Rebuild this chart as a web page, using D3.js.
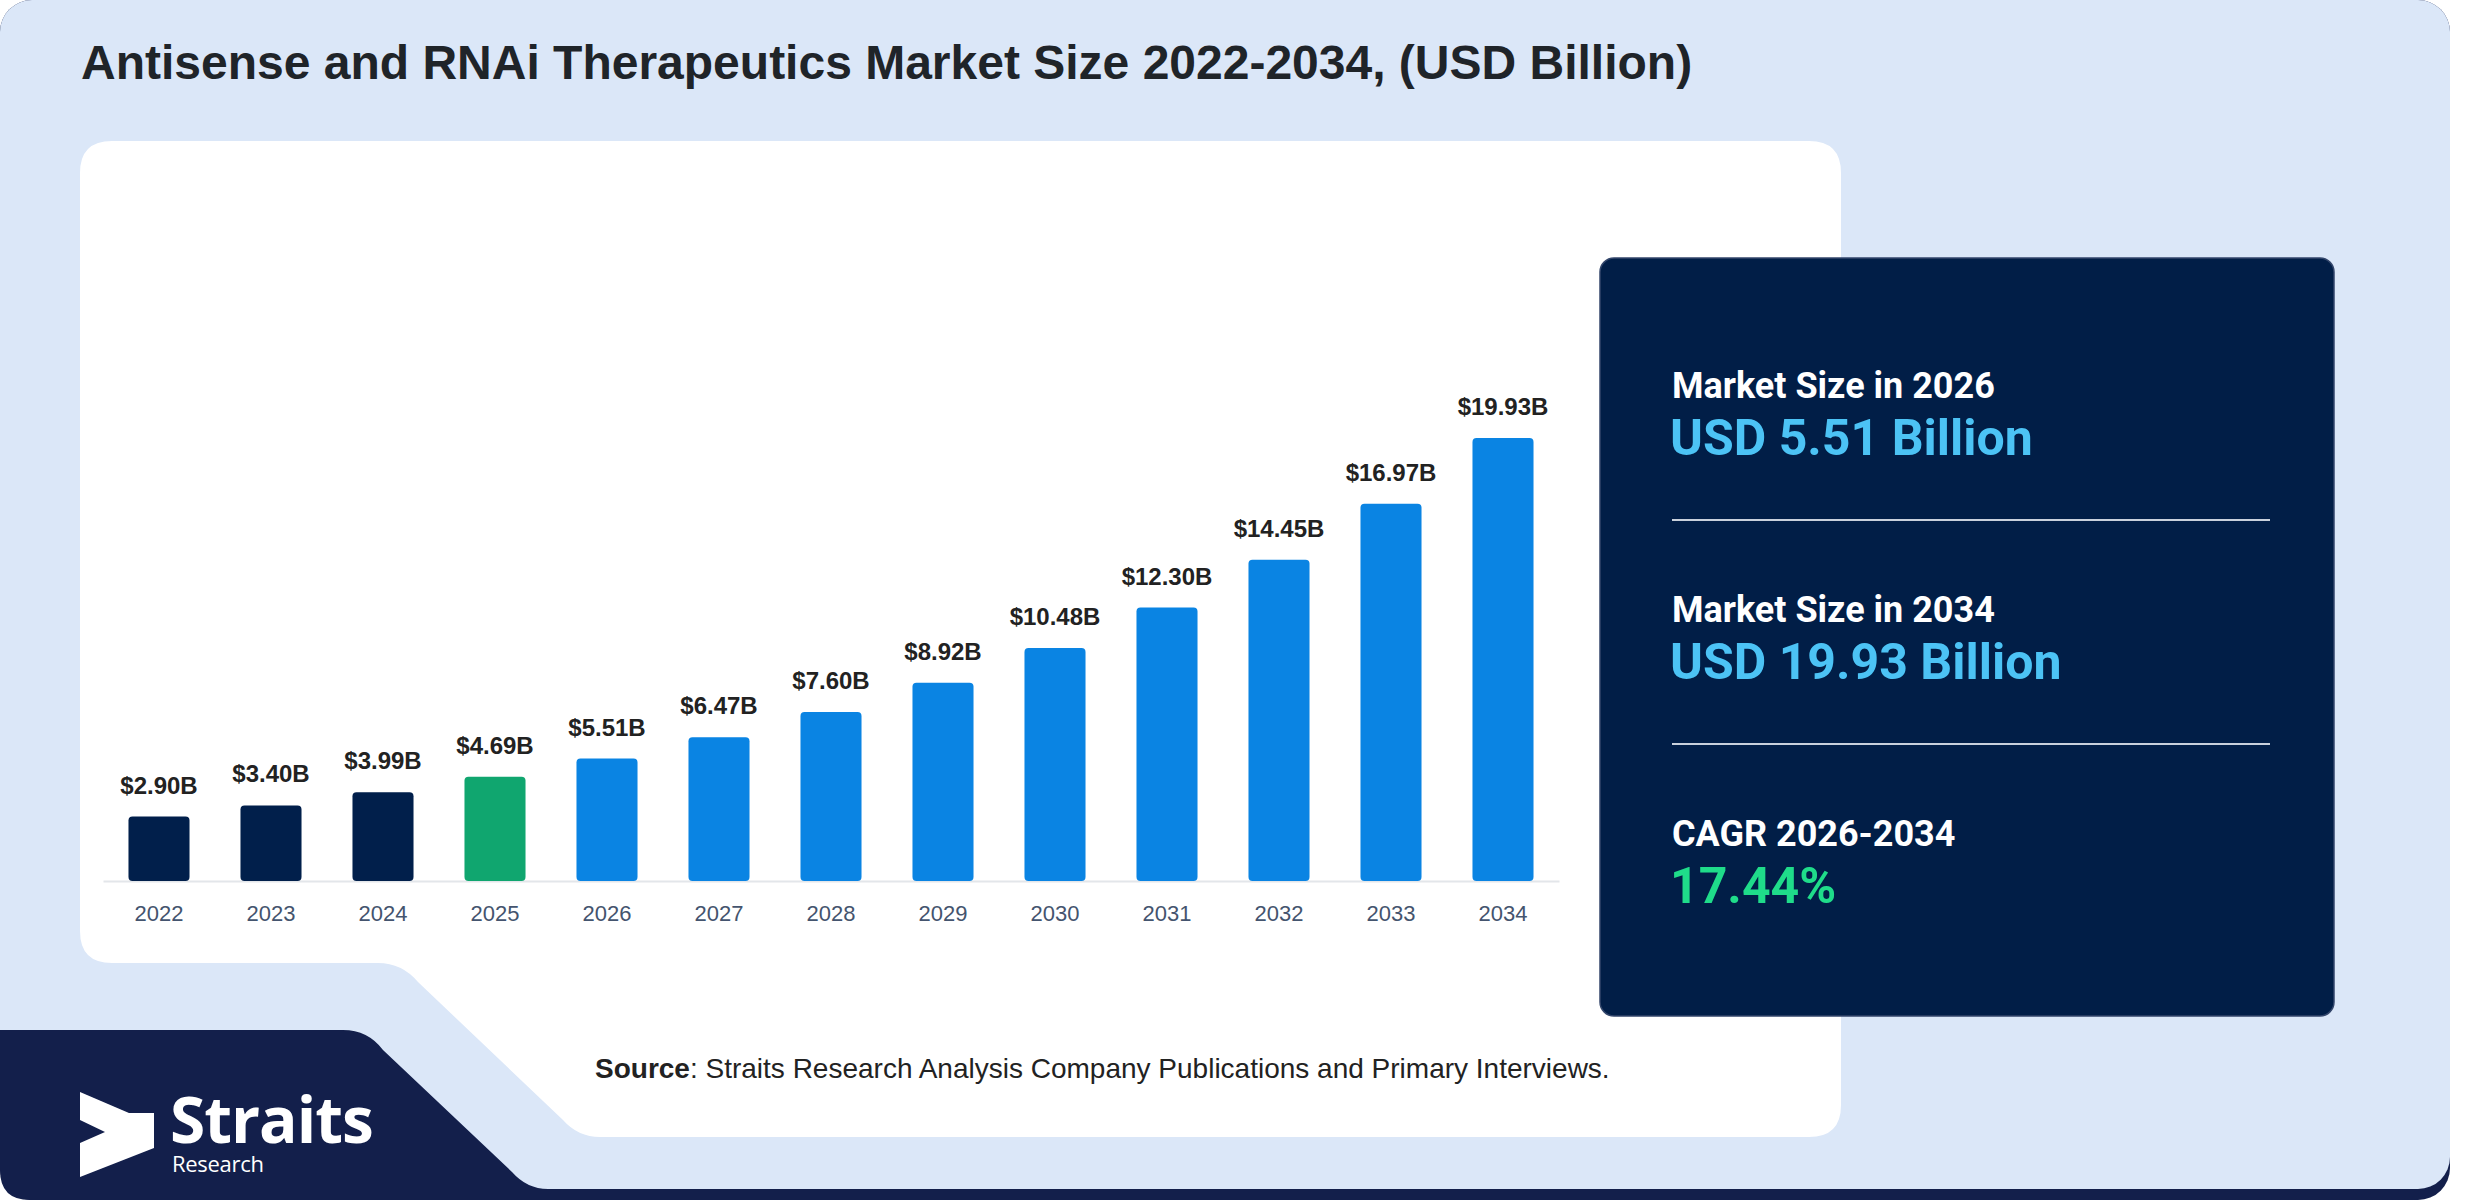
<!DOCTYPE html>
<html lang="en">
<head>
<meta charset="utf-8">
<title>Antisense and RNAi Therapeutics Market Size</title>
<style>
  body { margin: 0; background: #ffffff; }
  svg { display: block; }
</style>
</head>
<body>
<div id="chart"></div>
<script src="https://d3js.org/d3.v7.min.js"></script>
<script>

// chart data
var years = ["2022", "2023", "2024", "2025", "2026", "2027", "2028", "2029", "2030", "2031", "2032", "2033", "2034"];
var values = [2.90, 3.40, 3.99, 4.69, 5.51, 6.47, 7.60, 8.92, 10.48, 12.30, 14.45, 16.97, 19.93];
var phases = ["hist", "hist", "hist", "base", "fcst", "fcst", "fcst", "fcst", "fcst", "fcst", "fcst", "fcst", "fcst"];

// side panel
var statTitles = ["Market Size in 2026", "Market Size in 2034", "CAGR 2026-2034"];
var statValues = ["USD 5.51 Billion", "USD 19.93 Billion", "17.44%"];
var statKinds = ["money", "money", "rate"];

var titleText = "Antisense and RNAi Therapeutics Market Size 2022-2034, (USD Billion)";
var sourceText = ": Straits Research Analysis Company Publications and Primary Interviews.";

var W = 2480, H = 1200;

var svg = d3.select("#chart")
  .append("svg")
    .attr("width", W)
    .attr("height", H);

// background panels
svg.append("rect")
  .attr("x", 0).attr("y", 0)
  .attr("width", 2450).attr("height", 1200)
  .attr("rx", 32)
  .attr("fill", "#131f4b");

svg.append("rect")
  .attr("x", 0).attr("y", 0)
  .attr("width", 2450).attr("height", 1189)
  .attr("rx", 32)
  .attr("fill", "#dbe7f8");

// logo block bottom-left
svg.append("path")
  .attr("d", "M0,1030 H343 Q368,1030 383,1050 L512,1172 Q527,1189 548,1189 H600 V1200 H30 Q0,1200 0,1170 Z")
  .attr("fill", "#131f4b");

// white chart card with notch
svg.append("path")
  .attr("d", "M112,141 H1809 Q1841,141 1841,173 V1105 Q1841,1137 1809,1137 H600 Q578,1137 563,1120 L418,982 Q402,963 378,963 H112 Q80,963 80,931 V173 Q80,141 112,141 Z")
  .attr("fill", "#ffffff");

// title
svg.append("text")
  .attr("x", 81).attr("y", 79)
  .text(titleText)
  .style("font-family", "'Liberation Sans', Arial, sans-serif")
  .style("font-weight", "bold")
  .style("font-size", "48px")
  .attr("fill", "#1f2429");

// bar chart
var x = d3.scaleBand()
  .domain(years)
  .range([103, 1559])
  .paddingInner(0.455)
  .paddingOuter(0.2275);

var y = d3.scaleLinear()
  .domain([0, d3.max(values)])
  .range([881, 438]);

var color = d3.scaleOrdinal()
  .domain(["hist", "base", "fcst"])
  .range(["#011f4b", "#10a66f", "#0a84e3"]);

var rows = years.map(function(d, i) { return {year: d, value: values[i], phase: phases[i]}; });

var xAxis = svg.append("g")
  .attr("transform", "translate(0," + 881 + ")")
  .call(d3.axisBottom(x).tickSize(0).tickPadding(24));

xAxis.select(".domain")
  .attr("stroke", "#e3e6ea")
  .attr("stroke-width", 2);

xAxis.selectAll("text")
  .style("font-family", "'Liberation Sans', Arial, sans-serif")
  .style("font-size", "22px")
  .attr("fill", "#44546e");

svg.selectAll("rect.bar")
  .data(rows)
  .enter()
  .append("rect")
    .attr("class", "bar")
    .attr("x", function(d) { return x(d.year); })
    .attr("y", function(d) { return y(d.value); })
    .attr("width", x.bandwidth())
    .attr("height", function(d) { return y(0) - y(d.value); })
    .attr("rx", 4)
    .attr("fill", function(d) { return color(d.phase); });

svg.selectAll("text.val")
  .data(rows)
  .enter()
  .append("text")
    .attr("class", "val")
    .attr("x", function(d) { return x(d.year) + x.bandwidth() / 2; })
    .attr("y", function(d) { return y(d.value) - 23; })
    .attr("text-anchor", "middle")
    .text(function(d) { return "$" + d.value.toFixed(2) + "B"; })
    .style("font-family", "'Liberation Sans', Arial, sans-serif")
    .style("font-weight", "bold")
    .style("font-size", "24px")
    .attr("fill", "#222222");

// source line
var src = svg.append("text")
  .attr("x", 595).attr("y", 1078)
  .style("font-family", "'Liberation Sans', Arial, sans-serif")
  .style("font-size", "28px")
  .attr("fill", "#222222");
src.append("tspan").style("font-weight", "bold").text("Source");
src.append("tspan").text(sourceText);

// logo
svg.append("polygon")
  .attr("points", "80,1092 129,1113 154,1113 154,1148 80,1177 80,1143 105,1132 80,1120")
  .attr("fill", "#ffffff");
svg.append("text")
  .attr("x", 170).attr("y", 1143)
  .text("Straits")
  .style("font-family", "'Open Sans', sans-serif")
  .style("font-weight", "bold")
  .style("font-size", "64px")
  .style("letter-spacing", "-1px")
  .attr("fill", "#ffffff");
svg.append("text")
  .attr("x", 172).attr("y", 1172)
  .text("Research")
  .style("font-family", "'Open Sans', sans-serif")
  .style("font-size", "22px")
  .style("letter-spacing", "-0.3px")
  .attr("fill", "#ffffff");

// stats panel
svg.append("rect")
  .attr("x", 1600).attr("y", 258)
  .attr("width", 734).attr("height", 758)
  .attr("rx", 14)
  .attr("fill", "#011e47")
  .attr("stroke", "#33466b")
  .attr("stroke-width", 1.5);

var statY = d3.scalePoint()
  .domain(statTitles)
  .range([398, 846]);

var statColor = d3.scaleOrdinal()
  .domain(["money", "rate"])
  .range(["#4cc3f5", "#1fdc8a"]);

statTitles.forEach(function(t, i) {
  var yy = statY(t);
  svg.append("text")
    .attr("x", 1672).attr("y", yy)
    .text(t)
    .style("font-family", "Roboto, sans-serif")
    .style("font-weight", "bold")
    .style("font-size", "36px")
    .attr("fill", "#ffffff");
  svg.append("text")
    .attr("x", 1670).attr("y", yy + 57)
    .text(statValues[i])
    .style("font-family", "Roboto, sans-serif")
    .style("font-weight", "bold")
    .style("font-size", "50px")
    .attr("fill", statColor(statKinds[i]));
  if (i < statTitles.length - 1) {
    svg.append("line")
      .attr("x1", 1672).attr("x2", 2270)
      .attr("y1", yy + 122).attr("y2", yy + 122)
      .attr("stroke", "#c9d1dc")
      .attr("stroke-width", 2);
  }
});

</script>
</body>
</html>
